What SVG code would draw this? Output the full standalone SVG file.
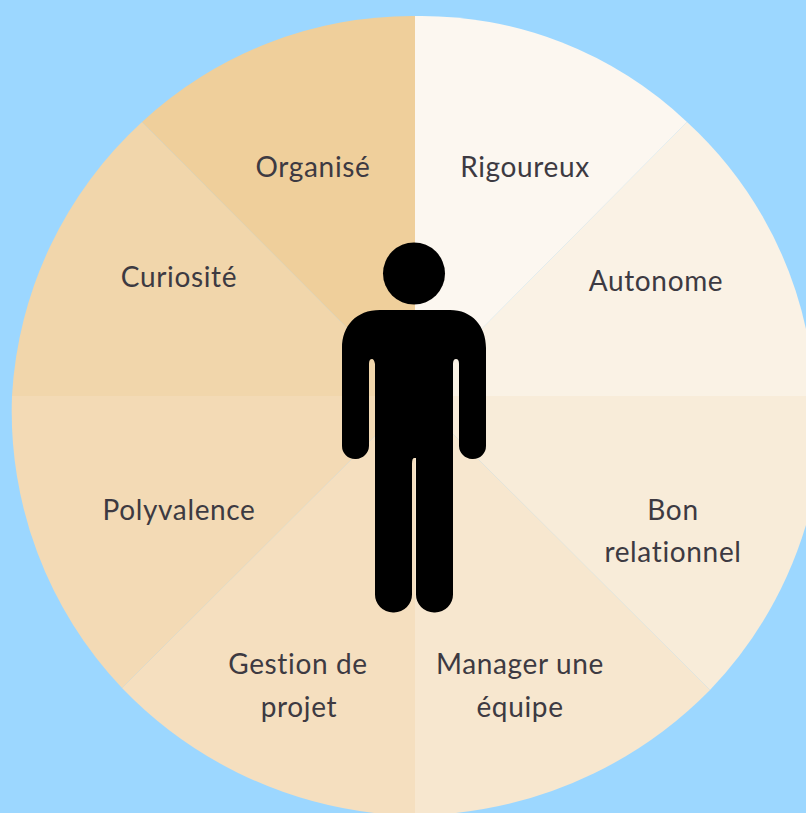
<svg xmlns="http://www.w3.org/2000/svg" width="806" height="813" viewBox="0 0 806 813">
<style>
text{font-family:"Lato","Noto Sans",sans-serif;font-size:28px;fill:#3d3a42;text-anchor:middle;letter-spacing:.65px}
</style>
<rect width="806" height="813" fill="#9cd7ff"/>
<g id="wheel">
<path id="s1" d="M415 396V16A386 386 0 0 1 687 122Z" fill="#fcf7f0"/>
<path id="s2" d="M415 396L687 122A395 395 0 0 1 806 329V396Z" fill="#faf2e5"/>
<path id="s3" d="M415 396H806V525A412 412 0 0 1 710 690Z" fill="#f8ecd9"/>
<path id="s4" d="M415 396L710 690A419 419 0 0 1 456 813H415Z" fill="#f7e7cf"/>
<path id="s5" d="M415 396V813H374A416 416 0 0 1 122 688Z" fill="#f5dfbf"/>
<path id="s6" d="M415 396L122 688A402 402 0 0 1 12 396Z" fill="#f3dab5"/>
<path id="s7" d="M415 396H12A402 402 0 0 1 142 122Z" fill="#f1d6ab"/>
<path id="s8" d="M415 396L142 122A398 398 0 0 1 415 16Z" fill="#efcf9b"/>
</g>
<g id="person">
<circle cx="414" cy="273.500" r="31"/>
<path d="M380 310H450C472 310 486 326 486 348V446A13 13 0 0 1 473 459H472A13.500 13.500 0 0 1 459 446V364Q459 359 456 359Q453 359 453 364V594A18 18 0 0 1 435 612.500H434A18 18 0 0 1 416 594V458H414Q412 458 412 464V594A18 18 0 0 1 394 612.500H393A18 18 0 0 1 375 594V364Q374 359 372 359Q369 359 369 364V446A13.500 13.500 0 0 1 356 459H355A13 13 0 0 1 342 446V348C342 326 356 310 380 310Z"/>
</g>
<g id="labels">
<text x="313" y="177">Organisé</text>
<text x="525" y="177">Rigoureux</text>
<text x="179" y="287">Curiosité</text>
<text x="656" y="291">Autonome</text>
<text x="179" y="520">Polyvalence</text>
<text x="673" y="520">Bon</text>
<text x="673" y="562">relationnel</text>
<text x="298" y="674">Gestion de</text>
<text x="299" y="717">projet</text>
<text x="520" y="674">Manager une</text>
<text x="520" y="717">équipe</text>
</g>
</svg>
